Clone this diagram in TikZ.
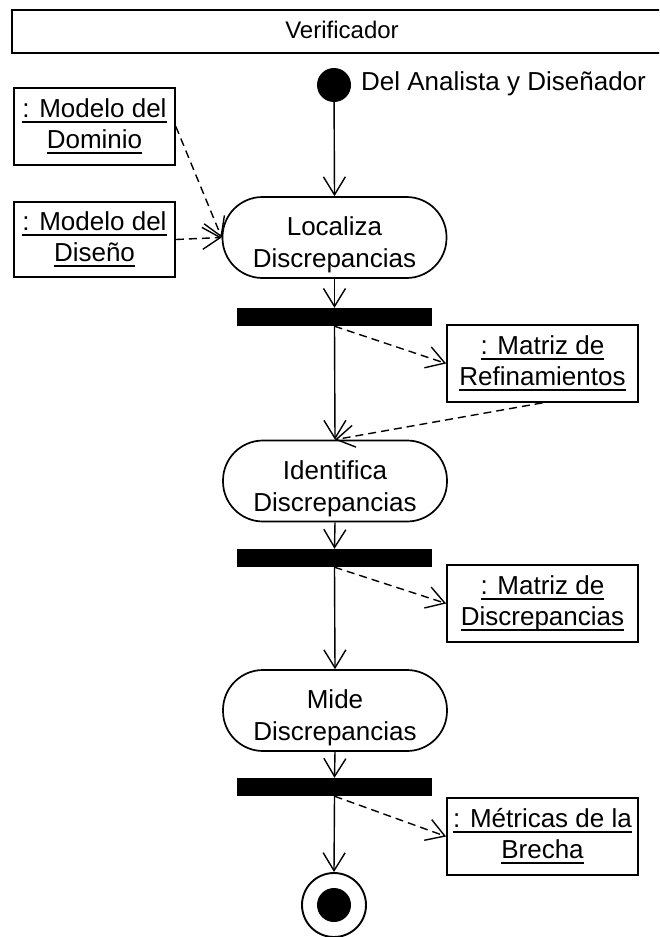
\documentclass[tikz,border=0pt]{standalone}
\usepackage{fontspec}
\setmainfont{Liberation Sans}
\usetikzlibrary{arrows.meta}

% underlined line of text for object names
\newsavebox\ulbox
\newcommand\objline[1]{\sbox\ulbox{#1}\rlap{\rule[-5.5pt]{\wd\ulbox}{2.2pt}}\usebox\ulbox}

\begin{document}
\begin{tikzpicture}[x=1pt,y=-1pt,
  every node/.style={font=\fontsize{26}{31}\selectfont},
  lane/.style={draw,line width=1.7pt,minimum width=660pt,minimum height=43pt,inner sep=0pt},
  activity/.style={draw,line width=1.7pt,rectangle,rounded corners=40pt,minimum width=224pt,minimum height=81pt,inner sep=0pt},
  activitytext/.style={align=center,inner sep=0pt,font=\fontsize{26}{32}\selectfont},
  objbox/.style={draw,line width=1.7pt,align=center,inner sep=0pt},
  syncbar/.style={fill=black,draw=none,minimum width=195pt,minimum height=18pt,inner sep=0pt},
  flow/.style={line width=1.4pt,-{Straight Barb[length=18pt,width=22pt,line width=1.4pt]}},
  objflow/.style={flow,dash pattern=on 8pt off 5pt}]
\useasboundingbox (0,0) rectangle (659,937);
\begin{scope}
\clip (0,0) rectangle (659,937);

% swimlane header
\node[lane] (lane) at (342,31.5) {};
\node[font=\fontsize{24}{28}\selectfont] (lanetitle) at (342,30) {Verificador};

% initial state
\node[circle,fill=black,minimum size=34pt,inner sep=0pt] (start) at (334,85) {};
\node[anchor=west,inner sep=0pt] (startlabel) at (361,84) {Del Analista y Diseñador};

% activities
\node[activity] (loc) at (334.5,237.5) {};
\node[activitytext] (loctext) at (334.5,245) {Localiza\\Discrepancias};
\node[activity] (ident) at (335,481) {};
\node[activitytext] (identtext) at (335,488.5) {Identifica\\Discrepancias};
\node[activity] (mide) at (335,710.5) {};
\node[activitytext] (midetext) at (335,718) {Mide\\Discrepancias};

% synchronisation bars
\node[syncbar] (bar1) at (334.5,317) {};
\node[syncbar] (bar2) at (334.5,558) {};
\node[syncbar] (bar3) at (334.5,787) {};

% objects
\node[objbox,minimum width=161pt,minimum height=77pt] (dom) at (94.5,126.5) {\objline{: Modelo del}\\\objline{Dominio}};
\node[objbox,minimum width=161pt,minimum height=75pt] (dis) at (94.5,239.5) {\objline{: Modelo del}\\\objline{Diseño}};
\node[objbox,minimum width=191pt,minimum height=77pt] (ref) at (542.5,363.5) {\objline{: Matriz de}\\\objline{Refinamientos}};
\node[objbox,minimum width=191pt,minimum height=77pt] (disc) at (542.5,603.5) {\objline{: Matriz de}\\\objline{Discrepancias}};
\node[objbox,minimum width=191pt,minimum height=77pt] (met) at (542.5,836.5) {\objline{: Métricas de la}\\\objline{Brecha}};

% final state
\node[circle,draw,line width=1.9pt,minimum size=64pt,inner sep=0pt] (final) at (334,905) {};
\node[circle,fill=black,minimum size=34pt,inner sep=0pt] (finaldot) at (final.center) {};

% control flow
\draw[flow] (start) -- (loc.north);
\draw[flow] (loc.south) -- (bar1.north);
\draw[flow] (bar1.south) -- (ident.north);
\draw[flow] (ident.south) -- (bar2.north);
\draw[flow] (bar2.south) -- (mide.north);
\draw[flow] (mide.south) -- (bar3.north);
\draw[flow] (bar3.south) -- (final.north);

% object flow
\draw[objflow] (dom.east) -- (loc.west);
\draw[objflow] (dis.east) -- (loc.west);
\draw[objflow] (bar1.south) -- (ref.west);
\draw[objflow] (ref.south) -- (ident.north);
\draw[objflow] (bar2.south) -- (disc.west);
\draw[objflow] (bar3.south) -- (met.west);
\end{scope}
\end{tikzpicture}
\end{document}
